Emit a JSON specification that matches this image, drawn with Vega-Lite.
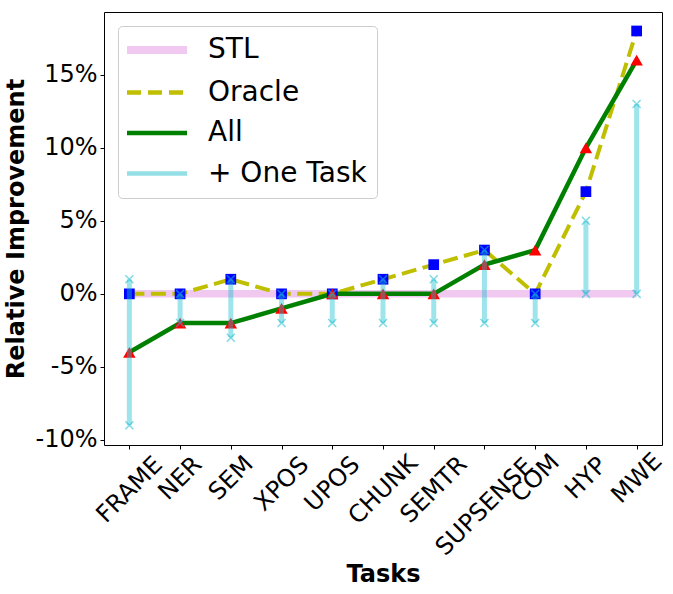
{
  "$schema": "https://vega.github.io/schema/vega-lite/v6.json",
  "width": 558,
  "height": 433,
  "autosize": {"type": "none"},
  "padding": {"left": 104, "top": 12, "right": 11, "bottom": 149},
  "config": {
    "font": "DejaVu Sans",
    "view": {"stroke": "#000", "strokeWidth": 1},
    "axis": {
      "domain": false, "grid": false, "tickColor": "#000", "tickSize": 4, "tickWidth": 1,
      "labelColor": "#000", "labelFontSize": 24, "titleFontSize": 24, "titleFontWeight": "bold",
      "titleColor": "#000", "labelFont": "DejaVu Sans", "titleFont": "DejaVu Sans", "labelPadding": 3
    },
    "legend": {
      "orient": "top-left", "offset": 14, "padding": 10, "fillColor": "#fff", "strokeColor": "#cccccc",
      "cornerRadius": 4, "labelFontSize": 28, "labelFont": "DejaVu Sans", "labelColor": "#000",
      "symbolType": "M-1,0H3", "symbolSize": 900, "labelOffset": 52, "rowPadding": 12.5, "labelLimit": 0
    }
  },
  "datasets": {
    "lines": [
      {"task": "FRAME", "series": "STL", "value": 0},
      {"task": "NER", "series": "STL", "value": 0},
      {"task": "SEM", "series": "STL", "value": 0},
      {"task": "XPOS", "series": "STL", "value": 0},
      {"task": "UPOS", "series": "STL", "value": 0},
      {"task": "CHUNK", "series": "STL", "value": 0},
      {"task": "SEMTR", "series": "STL", "value": 0},
      {"task": "SUPSENSE", "series": "STL", "value": 0},
      {"task": "COM", "series": "STL", "value": 0},
      {"task": "HYP", "series": "STL", "value": 0},
      {"task": "MWE", "series": "STL", "value": 0},
      {"task": "FRAME", "series": "Oracle", "value": 0},
      {"task": "NER", "series": "Oracle", "value": 0},
      {"task": "SEM", "series": "Oracle", "value": 1},
      {"task": "XPOS", "series": "Oracle", "value": 0},
      {"task": "UPOS", "series": "Oracle", "value": 0},
      {"task": "CHUNK", "series": "Oracle", "value": 1},
      {"task": "SEMTR", "series": "Oracle", "value": 2},
      {"task": "SUPSENSE", "series": "Oracle", "value": 3},
      {"task": "COM", "series": "Oracle", "value": 0},
      {"task": "HYP", "series": "Oracle", "value": 7},
      {"task": "MWE", "series": "Oracle", "value": 18},
      {"task": "FRAME", "series": "All", "value": -4},
      {"task": "NER", "series": "All", "value": -2},
      {"task": "SEM", "series": "All", "value": -2},
      {"task": "XPOS", "series": "All", "value": -1},
      {"task": "UPOS", "series": "All", "value": 0},
      {"task": "CHUNK", "series": "All", "value": 0},
      {"task": "SEMTR", "series": "All", "value": 0},
      {"task": "SUPSENSE", "series": "All", "value": 2},
      {"task": "COM", "series": "All", "value": 3},
      {"task": "HYP", "series": "All", "value": 10},
      {"task": "MWE", "series": "All", "value": 16}
    ],
    "bars": [
      {"task": "FRAME", "lo": -9, "hi": 1},
      {"task": "NER", "lo": -2, "hi": 0},
      {"task": "SEM", "lo": -3, "hi": 1},
      {"task": "XPOS", "lo": -2, "hi": 0},
      {"task": "UPOS", "lo": -2, "hi": 0},
      {"task": "CHUNK", "lo": -2, "hi": 1},
      {"task": "SEMTR", "lo": -2, "hi": 1},
      {"task": "SUPSENSE", "lo": -2, "hi": 3},
      {"task": "COM", "lo": -2, "hi": 0},
      {"task": "HYP", "lo": 0, "hi": 5},
      {"task": "MWE", "lo": 0, "hi": 13}
    ]
  },
  "encoding": {
    "x": {
      "field": "task", "type": "nominal",
      "scale": {"type": "point", "padding": 0.5, "domain": ["FRAME", "NER", "SEM", "XPOS", "UPOS", "CHUNK", "SEMTR", "SUPSENSE", "COM", "HYP", "MWE"]},
      "axis": {
        "title": "Tasks", "labelAngle": -45, "labelAlign": "center", "labelBaseline": "middle",
        "labelOverlap": false, "labelBound": false, "titlePadding": 3,
        "labelPadding": {"expr": "2 + (length(datum.label) * 16.2 + 28) * 0.3535"}
      }
    }
  },
  "layer": [
    {
      "data": {"name": "lines"},
      "transform": [{"filter": "datum.series === 'STL'"}],
      "mark": {"type": "line", "strokeWidth": 7.5},
      "encoding": {
        "y": {
          "field": "value", "type": "quantitative",
          "scale": {"domain": [-10.35, 19.3], "nice": false, "zero": false},
          "axis": {"title": "Relative Improvement", "values": [-10, -5, 0, 5, 10, 15], "labelExpr": "datum.value + '%'", "titlePadding": 6}
        },
        "color": {
          "field": "series", "type": "nominal",
          "scale": {"domain": ["STL", "Oracle", "All", "+ One Task"], "range": ["#f0c8f0", "#bfbf00", "#008000", "#94dfe6"]},
          "legend": {
            "title": null,
            "encode": {"symbols": {"update": {
              "strokeWidth": {"signal": "datum.value === 'STL' ? 8 : 4.5"},
              "strokeDash": {"signal": "datum.value === 'Oracle' ? [14, 7] : [1, 0]"}
            }}}
          }
        }
      }
    },
    {
      "data": {"name": "lines"},
      "transform": [{"filter": "datum.series === 'Oracle'"}],
      "mark": {"type": "line", "strokeWidth": 4, "strokeDash": [15, 6.5]},
      "encoding": {
        "y": {"field": "value", "type": "quantitative"},
        "color": {"field": "series", "type": "nominal"}
      }
    },
    {
      "data": {"name": "lines"},
      "transform": [{"filter": "datum.series === 'All'"}],
      "mark": {"type": "line", "strokeWidth": 4.5},
      "encoding": {
        "y": {"field": "value", "type": "quantitative"},
        "color": {"field": "series", "type": "nominal"}
      }
    },
    {
      "data": {"name": "lines"},
      "transform": [{"filter": "datum.series === 'Oracle'"}],
      "mark": {"type": "point", "shape": "square", "filled": true, "size": 115, "color": "#0000ff", "opacity": 1},
      "encoding": {"y": {"field": "value", "type": "quantitative"}}
    },
    {
      "data": {"name": "lines"},
      "transform": [{"filter": "datum.series === 'All'"}],
      "mark": {"type": "point", "shape": "triangle-up", "filled": true, "size": 155, "color": "#ff0000", "opacity": 1},
      "encoding": {"y": {"field": "value", "type": "quantitative"}}
    },
    {
      "data": {"name": "bars"},
      "mark": {"type": "rule", "strokeWidth": 5, "color": "#17becf", "opacity": 0.42},
      "encoding": {
        "y": {"field": "lo", "type": "quantitative"},
        "y2": {"field": "hi"}
      }
    },
    {
      "data": {"name": "bars"},
      "mark": {"type": "point", "shape": "M-1,-1L1,1M-1,1L1,-1", "filled": false, "size": 64, "strokeWidth": 1.5, "color": "#17becf", "opacity": 0.55},
      "encoding": {"y": {"field": "lo", "type": "quantitative"}}
    },
    {
      "data": {"name": "bars"},
      "mark": {"type": "point", "shape": "M-1,-1L1,1M-1,1L1,-1", "filled": false, "size": 64, "strokeWidth": 1.5, "color": "#17becf", "opacity": 0.55},
      "encoding": {"y": {"field": "hi", "type": "quantitative"}}
    }
  ]
}
